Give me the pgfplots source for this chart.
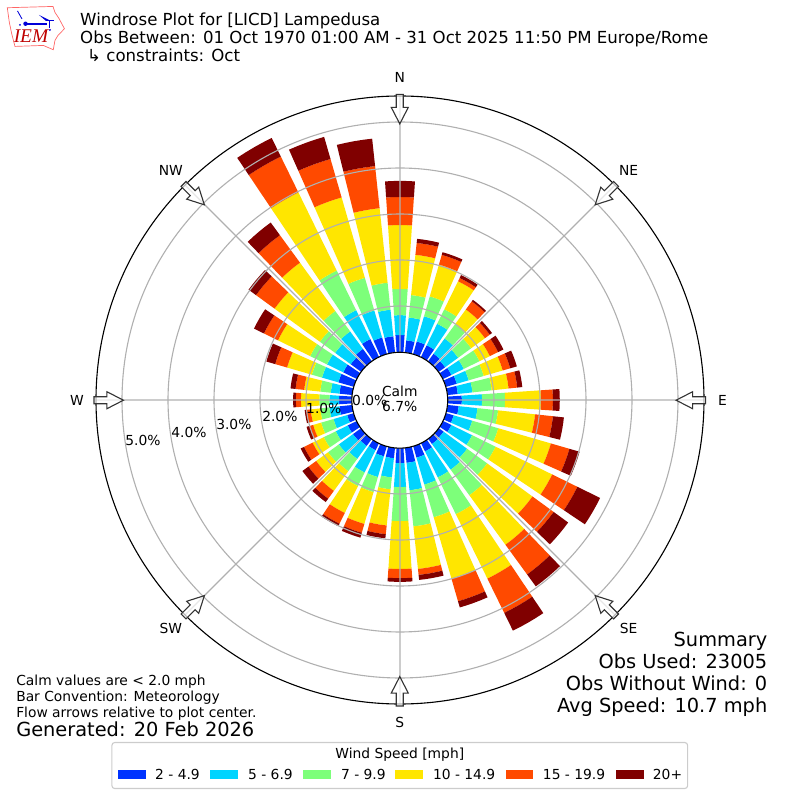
\documentclass[border=0pt]{standalone}
\usepackage{pgfplots}
\pgfplotsset{compat=1.18}
\usepgfplotslibrary{polar}
\usepackage{fontspec}
\setmainfont{DejaVu Sans}
\newfontfamily\logofont{Liberation Serif}
\definecolor{cA}{HTML}{0033FF}
\definecolor{cB}{HTML}{00D4FF}
\definecolor{cC}{HTML}{7DFF7A}
\definecolor{cD}{HTML}{FFE600}
\definecolor{cE}{HTML}{FF4A00}
\definecolor{cF}{HTML}{800000}
\definecolor{gridc}{HTML}{B0B0B0}
% one row per direction: bearing, then the cumulative percentage at the top of each speed class
\newcommand\rows{0/0.37/0.80/1.37/2.76/3.37/3.72,
10/0.26/0.76/1.25/2.13/2.39/2.48,
20/0.28/0.85/1.30/2.02/2.24/2.30,
30/0.28/0.80/1.15/1.83/1.91/1.98,
40/0.20/0.61/0.99/1.39/1.61/1.65,
50/0.17/0.52/0.87/1.24/1.37/1.43,
60/0.20/0.50/0.88/1.13/1.33/1.46,
70/0.24/0.51/0.85/1.28/1.45/1.60,
80/0.22/0.54/0.96/1.33/1.52/1.63,
90/0.30/0.74/1.24/2.02/2.28/2.43,
100/0.24/0.65/1.10/1.91/2.30/2.54,
110/0.17/0.59/1.18/2.37/2.79/3.02,
120/0.20/0.70/1.27/2.64/3.25/3.80,
130/0.13/0.76/1.30/2.52/3.09/3.48,
140/0.14/0.83/1.52/2.85/3.65/3.97,
150/0.20/0.83/1.72/3.28/4.11/4.54,
160/0.26/0.87/1.61/3.00/3.51/3.65,
170/0.33/0.93/1.72/2.65/2.78/2.89,
180/0.33/0.85/1.59/2.63/2.83/2.91,
190/0.23/0.65/0.91/1.70/1.89/1.98,
200/0.23/0.70/1.04/1.76/1.96/2.07,
210/0.17/0.71/1.04/1.69/1.95/2.01,
220/0.19/0.54/0.87/1.40/1.61/1.70,
230/0.22/0.60/0.89/1.21/1.42/1.58,
240/0.22/0.51/0.80/1.07/1.28/1.36,
250/0.15/0.46/0.74/0.92/1.00/1.07,
260/0.28/0.50/0.70/0.91/1.00/1.04,
270/0.28/0.49/0.71/1.11/1.22/1.28,
280/0.28/0.47/0.70/1.05/1.24/1.35,
290/0.35/0.72/0.95/1.51/1.78/1.98,
300/0.33/0.72/1.13/1.91/2.25/2.49,
310/0.28/0.70/1.11/2.33/2.83/3.03,
320/0.33/0.80/1.35/2.65/3.39/3.73,
330/0.43/1.13/2.09/3.98/4.85/5.30,
340/0.37/0.98/1.72/3.54/4.41/4.91,
350/0.35/0.93/1.52/3.15/4.07/4.67}
\newcommand{\seg}[4]{%
  \pgfmathsetmacro\rA{#2+1.0435}%
  \pgfmathsetmacro\rB{#3+1.0435}%
  \pgfmathsetmacro\hA{3.88+0.2/\rA}%
  \pgfmathsetmacro\hB{3.88+0.2/\rB}%
  \pgfmathsetmacro\aC{90-#1}%
  \pgfmathsetmacro\aA{\aC-\hA}%
  \pgfmathsetmacro\aB{\aC-\hA/2}%
  \pgfmathsetmacro\aD{\aC+\hA/2}%
  \pgfmathsetmacro\aE{\aC+\hA}%
  \pgfmathsetmacro\bA{\aC-\hB}%
  \pgfmathsetmacro\bB{\aC-\hB/2}%
  \pgfmathsetmacro\bD{\aC+\hB/2}%
  \pgfmathsetmacro\bE{\aC+\hB}%
  \edef\temp{\noexpand\addplot[draw=none,fill=#4,forget plot] coordinates {(\aA,\rA)(\aB,\rA)(\aC,\rA)(\aD,\rA)(\aE,\rA)(\bE,\rB)(\bD,\rB)(\aC,\rB)(\bB,\rB)(\bA,\rB)} --cycle;}%
  \temp}
% arrow pointing at the plot centre, along bearing #1
\newcommand{\windarrow}[1]{%
  \begin{scope}[shift={(400,400)},rotate=-#1]
    \draw[draw=black!80,fill=white,fill opacity=0.7,line width=0.8pt,line join=miter]
      (-3.5,306)--(3.5,306)--(3.5,293)--(8.5,293)--(0,276.5)--(-8.5,293)--(-3.5,293)--cycle;
  \end{scope}}
\newcommand{\lab}[4][]{\node[anchor=base,inner sep=0pt,font=\fontsize{10}{12}\selectfont,#1] at (#2,{800-#3}) {#4};}
\newcommand{\wtext}[4]{\node[anchor=base west,inner sep=0pt,font=\fontsize{#3}{#3}\selectfont] at (#1,{800-#2}) {#4};}
\newcommand{\etext}[4]{\node[anchor=base east,inner sep=0pt,font=\fontsize{#3}{#3}\selectfont] at (#1,{800-#2}) {#4};}
\begin{document}
\begin{tikzpicture}
\path[use as bounding box] (0,0) rectangle (8in,8in);
\begin{polaraxis}[
  at={(4in,4in)},anchor=center,
  scale only axis,width=6.08in,height=6.08in,
  axis on top,
  xmin=0,xmax=360,ymin=0,ymax=6.609,
  xtick={0,45,...,315},
  ytick={2.0435,3.0435,4.0435,5.0435,6.0435},
  xticklabel=\empty,yticklabel=\empty,
  grid=both,
  grid style={draw=gridc,line width=0.8pt},
  major tick length=0pt,
  y axis line style={draw=none},
  x axis line style={draw=black,line width=0.8pt},
]
\foreach \bb/\ca/\cb/\cc/\cd/\ce/\cf in \rows {%
  \seg{\bb}{0}{\ca}{cA}
  \seg{\bb}{\ca}{\cb}{cB}
  \seg{\bb}{\cb}{\cc}{cC}
  \seg{\bb}{\cc}{\cd}{cD}
  \seg{\bb}{\cd}{\ce}{cE}
  \seg{\bb}{\ce}{\cf}{cF}
}
\end{polaraxis}
\begin{scope}[x=0.01in,y=0.01in]
\draw[fill=white,draw=black,line width=0.8pt] (400,400) circle (48);
\foreach \bb in {0,45,...,315} {\windarrow{\bb}}
% compass labels
\lab{400}{82}{N}
\lab{629}{175}{NE}
\lab{723}{405}{E}
\lab{629}{633}{SE}
\lab{400}{727}{S}
\lab{171}{633}{SW}
\lab{77}{405}{W}
\lab{171}{175}{NW}
% radial labels
\lab{370}{405}{0.0\%}
\lab{324}{413}{1.0\%}
\lab{280}{421}{2.0\%}
\lab{234}{429}{3.0\%}
\lab{189}{437}{4.0\%}
\lab{143}{445}{5.0\%}
\lab{400}{396}{Calm}
\lab{400}{411}{6.7\%}
% titles
\wtext{80}{25}{12}{Windrose Plot for [LICD] Lampedusa}
\wtext{80}{43}{12}{Obs Between: 01 Oct 1970 01:00 AM - 31 Oct 2025 11:50 PM Europe/Rome}
\wtext{87}{61}{12}{↳ constraints: Oct}
% notes
\wtext{16}{685}{10}{Calm values are < 2.0 mph}
\wtext{16}{701}{10}{Bar Convention: Meteorology}
\wtext{16}{717}{10}{Flow arrows relative to plot center.}
\wtext{16}{736}{14}{Generated: 20 Feb 2026}
\etext{768}{646}{14}{Summary}
\etext{768}{668}{14}{Obs Used: 23005}
\etext{768}{690}{14}{Obs Without Wind: 0}
\etext{768}{712}{14}{Avg Speed: 10.7 mph}
% legend
\draw[draw=black!20,fill=white,rounded corners=2pt,line width=0.8pt] (112,{800-742.5}) rectangle (688,{800-788.5});
\lab{400}{758}{Wind Speed [mph]}
\fill[cA] (118,30) rectangle (146,21);
\fill[cB] (210,30) rectangle (238,21);
\fill[cC] (303,30) rectangle (331,21);
\fill[cD] (395,30) rectangle (423,21);
\fill[cE] (506,30) rectangle (533,21);
\fill[cF] (616,30) rectangle (644,21);
\wtext{155}{779}{10}{2 - 4.9}
\wtext{248}{779}{10}{5 - 6.9}
\wtext{341}{779}{10}{7 - 9.9}
\wtext{433}{779}{10}{10 - 14.9}
\wtext{543}{779}{10}{15 - 19.9}
\wtext{653}{779}{10}{20+}
% logo
\draw[draw=red!60!white,line width=0.5pt,fill=white]
  (7.3,792.7)--(53,794)--(55,788)--(59,782)--(64.5,771.7)--(58,765)--(55,760)--(53.3,750.7)--(43.3,755)--(15,754)--(11.7,766.7)--(9.3,778.3)--cycle;
\draw[blue!85!black,line width=1.3pt] (25,776.7)--(47,776.7);
\fill[blue!85!black] (25.5,776.7) circle (2.2);
\draw[blue!85!black,line width=0.6pt] (17.5,789.5)--(22,781.5);
\fill[blue!85!black] (39,785.5)--(49,780.5)--(46,779.5)--cycle;
\draw[blue!85!black,line width=0.6pt] (46,780.5)--(54.5,780.5);
\draw[blue!85!black,line width=0.6pt] (49.5,780.5)--(49.5,772);
\fill[blue!85!black] (50,770.5) circle (1.1);
\fill[blue!85!black] (20,775.5) circle (1);
\node[anchor=base,inner sep=0pt,text=red!75!black,font=\logofont\itshape\fontsize{14}{14}\selectfont] at (31,757.5) {IEM};
\end{scope}
\end{tikzpicture}
\end{document}
